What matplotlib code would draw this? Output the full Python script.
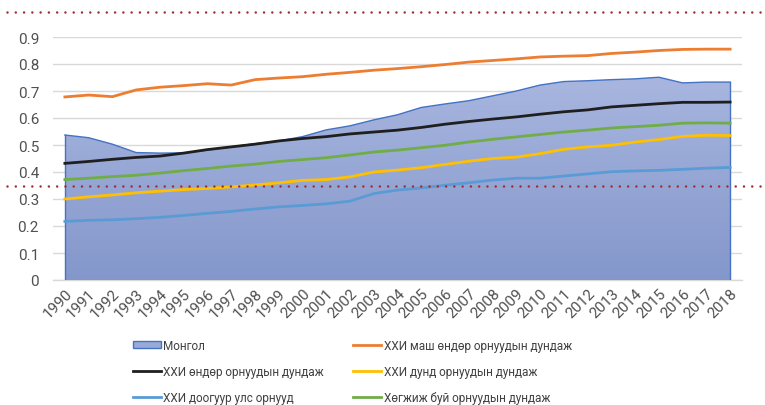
import numpy as np
import matplotlib
matplotlib.use('Agg')
import matplotlib.pyplot as plt
from matplotlib.colors import LinearSegmentedColormap
from matplotlib.patches import Patch
from matplotlib.lines import Line2D

plt.rcParams['font.family'] = ['Roboto', 'DejaVu Sans']

years = [str(y) for y in range(1990, 2019)]

mongol = [0.537, 0.527, 0.503, 0.472, 0.470, 0.471, 0.481, 0.493, 0.505, 0.515,
          0.531, 0.556, 0.571, 0.593, 0.612, 0.639, 0.652, 0.664, 0.682, 0.700,
          0.722, 0.735, 0.738, 0.742, 0.745, 0.751, 0.730, 0.733, 0.733]
very_high = [0.678, 0.685, 0.679, 0.704, 0.714, 0.720, 0.727, 0.722, 0.742, 0.748,
             0.753, 0.762, 0.769, 0.777, 0.783, 0.790, 0.798, 0.807, 0.813, 0.819,
             0.826, 0.829, 0.831, 0.839, 0.844, 0.850, 0.854, 0.855, 0.855]
high = [0.432, 0.439, 0.447, 0.454, 0.459, 0.470, 0.483, 0.493, 0.503, 0.515,
        0.524, 0.531, 0.541, 0.548, 0.555, 0.565, 0.577, 0.587, 0.596, 0.604,
        0.614, 0.623, 0.630, 0.641, 0.647, 0.653, 0.658, 0.658, 0.659]
medium = [0.300, 0.308, 0.315, 0.323, 0.329, 0.335, 0.339, 0.345, 0.352, 0.360,
          0.369, 0.372, 0.382, 0.400, 0.407, 0.416, 0.428, 0.440, 0.450, 0.455,
          0.468, 0.484, 0.493, 0.499, 0.511, 0.520, 0.532, 0.536, 0.535]
low = [0.217, 0.221, 0.223, 0.227, 0.232, 0.239, 0.247, 0.254, 0.263, 0.271,
       0.276, 0.282, 0.292, 0.320, 0.333, 0.341, 0.351, 0.360, 0.370, 0.377,
       0.377, 0.385, 0.393, 0.401, 0.404, 0.406, 0.410, 0.414, 0.417]
developing = [0.372, 0.377, 0.383, 0.388, 0.396, 0.405, 0.413, 0.422, 0.429, 0.439,
              0.446, 0.453, 0.463, 0.474, 0.481, 0.490, 0.499, 0.511, 0.521, 0.530,
              0.539, 0.548, 0.555, 0.563, 0.568, 0.573, 0.581, 0.582, 0.581]

labels = ['Монгол', 'ХХИ маш өндөр орнуудын дундаж', 'ХХИ өндөр орнуудын дундаж',
          'ХХИ дунд орнуудын дундаж', 'ХХИ доогуур улс орнууд', 'Хөгжиж буй орнуудын дундаж']

fig = plt.figure(figsize=(7.65, 4.06), dpi=100)
ax = fig.add_axes([53 / 765, 1 - 281 / 406, (742 - 53) / 765, (281 - 38) / 406])

x = np.arange(len(years))

# area with gradient fill
poly = ax.fill_between(x, 0, mongol, facecolor='none', edgecolor='none')
cmap = LinearSegmentedColormap.from_list('mn', ['#8497cb', '#a8b6df'])
im = ax.imshow(np.linspace(0, 1, 256).reshape(-1, 1), cmap=cmap, origin='lower',
               extent=[0, len(years) - 1, 0, max(mongol)], aspect='auto', zorder=1)
im.set_clip_path(poly.get_paths()[0], transform=ax.transData)
ax.plot(x, mongol, color='#4472c4', lw=1.0, zorder=2)
ax.plot([0, 0], [0, mongol[0]], color='#4472c4', lw=1.0, zorder=2)
ax.plot([x[-1], x[-1]], [0, mongol[-1]], color='#4472c4', lw=1.0, zorder=2)

ax.plot(x, very_high, color='#ed7d31', lw=2.0, zorder=3)
ax.plot(x, high, color='#1f1f1f', lw=2.0, zorder=3)
ax.plot(x, medium, color='#ffc000', lw=2.0, zorder=3)
ax.plot(x, low, color='#5b9bd5', lw=2.0, zorder=3)
ax.plot(x, developing, color='#70ad47', lw=2.0, zorder=3)

ax.set_xlim(-0.5, len(years) - 0.5)
ax.set_ylim(0, 0.9)
ax.set_yticks(np.arange(0, 0.91, 0.1))
ax.set_yticklabels(['0'] + ['%.1f' % v for v in np.arange(0.1, 0.91, 0.1)])
ax.set_xticks(x)
ax.set_xticklabels(years, rotation=45, ha='right', rotation_mode='anchor')
ax.tick_params(axis='both', length=0, labelsize=11, colors='#505050')
ax.tick_params(axis='y', pad=10)
ax.tick_params(axis='x', pad=4)
ax.grid(axis='y', color='#d9d9d9', lw=1.0, zorder=0)
ax.set_axisbelow(True)
for s in ['top', 'right', 'left']:
    ax.spines[s].set_visible(False)
ax.spines['bottom'].set_color('#d9d9d9')
ax.spines['bottom'].set_linewidth(1.0)
ax.spines['bottom'].set_zorder(0.5)

# legend, row-wise order
handles = [Patch(facecolor='#9aaad8', edgecolor='#4472c4', lw=1.0),
           Line2D([], [], color='#1f1f1f', lw=2),
           Line2D([], [], color='#5b9bd5', lw=2),
           Line2D([], [], color='#ed7d31', lw=2),
           Line2D([], [], color='#ffc000', lw=2),
           Line2D([], [], color='#70ad47', lw=2)]
leg_labels = [labels[0], labels[2], labels[4], labels[1], labels[3], labels[5]]
fig.legend(handles, leg_labels, ncol=2, loc='upper left',
           bbox_to_anchor=(122 / 765, 1 - 329 / 406), frameon=False,
           fontsize=8.5, labelcolor='#404040', handlelength=2.4, handleheight=0.65,
           handletextpad=0.2, columnspacing=2.45, labelspacing=1.13)

# decorative dotted lines
for yy in [13, 187]:
    fig.add_artist(Line2D([7 / 765, 1.0], [1 - yy / 406, 1 - yy / 406],
                          transform=fig.transFigure, color='#9b2d30', lw=1.8,
                          linestyle=(0, (0.01, 3.3)), dash_capstyle='round', zorder=10))

fig.savefig('out.png', dpi=100)
